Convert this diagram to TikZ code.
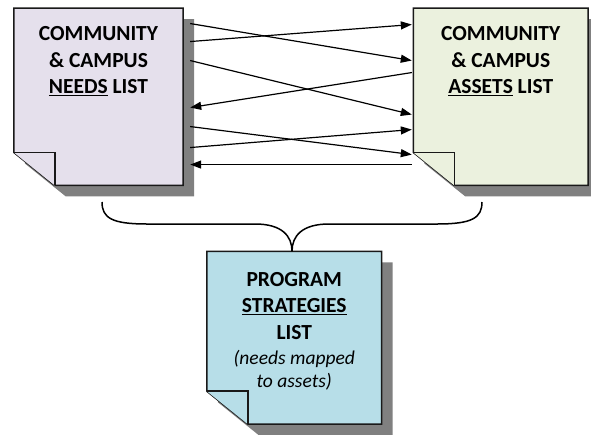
\documentclass[tikz,border=0pt]{standalone}
\usepackage{fontspec}
\setmainfont{Carlito}
\usetikzlibrary{arrows.meta,positioning,backgrounds}

\definecolor{needsfill}{HTML}{E5E0EC}
\definecolor{assetsfill}{HTML}{EBF1DE}
\definecolor{stratfill}{HTML}{B7DEE8}
\definecolor{shadowgray}{HTML}{808080}

\tikzset{
  box/.style={inner sep=0pt, minimum height=177pt},
  page/.style={draw=black!90, line width=1.5pt},
  title/.style={font=\fontsize{21.5}{26.5}\selectfont\bfseries, align=center, inner sep=0pt},
  remark/.style={font=\fontsize{19.5}{23}\selectfont\itshape, align=center, inner sep=0pt},
  link/.style={-{Triangle[length=11pt,width=8pt]}, line width=1.2pt},
  brace/.style={line width=1.5pt}
}

% folded page with drop shadow round a named node
\newcommand\notepage[2]{%
  \fill[shadowgray] ([shift={(11pt,-11pt)}]#1.north west) -- ([shift={(11pt,-11pt)}]#1.north east)
    -- ([shift={(11pt,-11pt)}]#1.south east) -- ([shift={(52pt,-11pt)}]#1.south west)
    -- ([shift={(11pt,22pt)}]#1.south west) -- cycle;
  \draw[page, fill=#2] (#1.north west) -- (#1.north east) -- (#1.south east)
    -- ([xshift=41pt]#1.south west) -- ([yshift=33pt]#1.south west) -- cycle;
  \draw[page, fill=#2] ([yshift=33pt]#1.south west) -| ([xshift=41pt]#1.south west);
}

\begin{document}
\begin{tikzpicture}[x=1pt, y=1pt]
\useasboundingbox (0,0) rectangle (591,-434);

% the three lists
\node[box, minimum width=169pt] (needs) at (98.5,-96.75) {};
\node[box, minimum width=174.5pt] (assets) at (500.75,-96.75) {};
\node[box, minimum width=174.5pt, minimum height=172.5pt] (strat) at (294.25,-337.75) {};

\node[title, below=18.5pt of needs.north] (needstxt) {COMMUNITY\\\& CAMPUS\\\underline{NEEDS} LIST};
\node[title, below=18.5pt of assets.north] (assetstxt) {COMMUNITY\\\& CAMPUS\\\underline{ASSETS} LIST};
\node[title, below=20.5pt of strat.north] (strattxt) {PROGRAM\\\underline{STRATEGIES}\\LIST};
\node[remark, below=11pt of strattxt] (stratnote) {(needs mapped\\to assets)};

\begin{scope}[on background layer]
  \notepage{needs}{needsfill}
  \notepage{assets}{assetsfill}
  \notepage{strat}{stratfill}
\end{scope}

% links between needs and assets
\draw[link] ([xshift=7pt,yshift=-15.5pt]needs.north east) -- ([xshift=-1.5pt,yshift=-52.5pt]assets.north west);
\draw[link] ([xshift=7pt,yshift=-33.5pt]needs.north east) -- ([xshift=-1.5pt,yshift=-16.5pt]assets.north west);
\draw[link] ([xshift=7pt,yshift=-52.5pt]needs.north east) -- ([xshift=-1.5pt,yshift=-106.5pt]assets.north west);
\draw[link] ([xshift=-1.5pt,yshift=-64.5pt]assets.north west) -- ([xshift=7pt,yshift=-99.5pt]needs.north east);
\draw[link] ([xshift=7pt,yshift=-118.5pt]needs.north east) -- ([xshift=-1.5pt,yshift=-146.5pt]assets.north west);
\draw[link] ([xshift=7pt,yshift=-139.5pt]needs.north east) -- ([xshift=-1.5pt,yshift=-121.5pt]assets.north west);
\draw[link] ([xshift=-1.5pt,yshift=-156.5pt]assets.north west) -- ([xshift=7pt,yshift=-156.5pt]needs.north east);

% brace joining both lists to the strategies
\coordinate (braceL) at (102,-202);
\coordinate (braceR) at (482,-202);
\coordinate (tip) at ([xshift=-2.25pt]strat.north);
\draw[brace] (braceL) .. controls (102,-218) and (112,-224) .. (147,-224) -- (255,-224)
  .. controls (282,-224) and (292,-236) .. (tip)
  .. controls (292,-236) and (302,-224) .. (329,-224) -- (437,-224)
  .. controls (472,-224) and (482,-218) .. (braceR);
\end{tikzpicture}
\end{document}
